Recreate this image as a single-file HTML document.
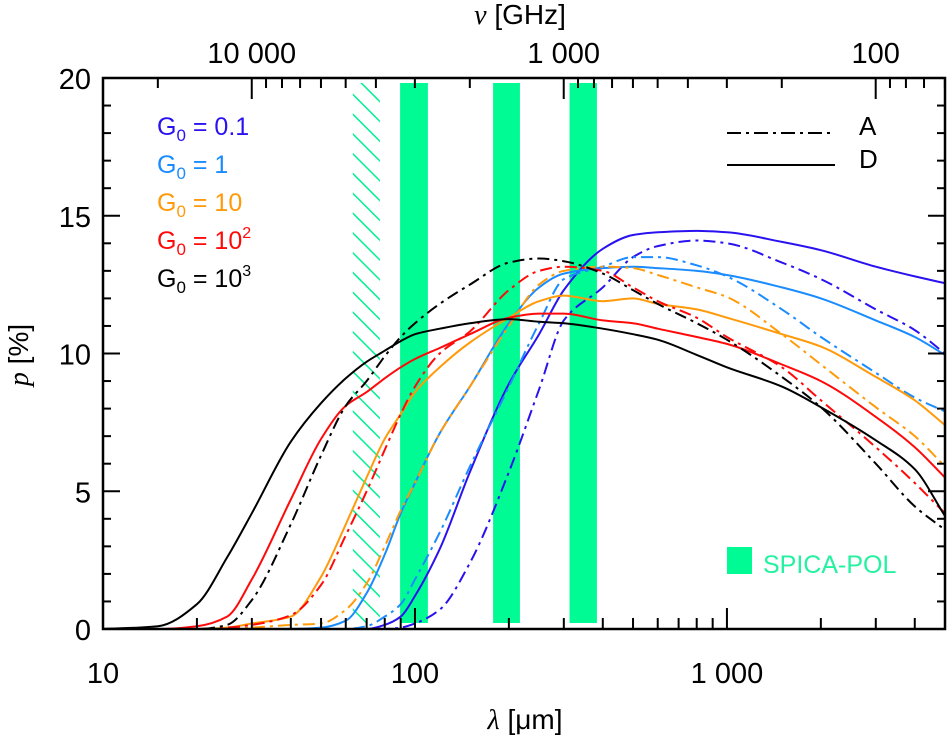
<!DOCTYPE html>
<html><head><meta charset="utf-8">
<style>
html,body{margin:0;padding:0;background:#fff;}
svg{display:block;font-family:"Liberation Sans",sans-serif;}
</style></head>
<body>
<svg id="chart" width="949" height="738" viewBox="0 0 949 738" xmlns="http://www.w3.org/2000/svg">
<defs>
<pattern id="hatch" patternUnits="userSpaceOnUse" width="14" height="14" patternTransform="rotate(-45)">
<line x1="0" y1="0" x2="0" y2="14" stroke="#00f093" stroke-width="3"/>
</pattern>
<clipPath id="plotclip"><rect x="103" y="78" width="842" height="551"/></clipPath>
</defs>
<g id="bands"></g>
<g id="curves" clip-path="url(#plotclip)"></g>
<g id="axes"></g>
<g id="legend">
<text x="157" y="135" font-size="25" fill="#2a12f0">G<tspan font-size="17" dy="6">0</tspan><tspan dy="-6"> = 0.1</tspan></text>
<text x="157" y="173" font-size="25" fill="#1a8cff">G<tspan font-size="17" dy="6">0</tspan><tspan dy="-6"> = 1</tspan></text>
<text x="157" y="211" font-size="25" fill="#ff9a0a">G<tspan font-size="17" dy="6">0</tspan><tspan dy="-6"> = 10</tspan></text>
<text x="157" y="249" font-size="25" fill="#ff0a0a">G<tspan font-size="17" dy="6">0</tspan><tspan dy="-6"> = 10</tspan><tspan font-size="16" dy="-11">2</tspan></text>
<text x="157" y="287" font-size="25" fill="#000">G<tspan font-size="17" dy="6">0</tspan><tspan dy="-6"> = 10</tspan><tspan font-size="16" dy="-11">3</tspan></text>
<line x1="727" y1="133" x2="830" y2="133" stroke="#000" stroke-width="2" stroke-dasharray="14,5,3,5"/>
<text x="859" y="135" font-size="26">A</text>
<line x1="727" y1="165" x2="835" y2="165" stroke="#000" stroke-width="2"/>
<text x="859" y="168" font-size="26">D</text>
<rect x="727" y="547" width="25" height="27" fill="#00fa94"/>
<text x="763" y="573" font-size="25" fill="#24f2a0">SPICA-POL</text>
</g>
<text x="525" y="729" font-size="28" text-anchor="middle"><tspan font-family="Liberation Serif" font-style="italic">λ</tspan> [μm]</text>
<text x="520" y="24" font-size="28" text-anchor="middle"><tspan font-family="Liberation Serif" font-style="italic">ν</tspan> [GHz]</text>
<text transform="translate(28,355) rotate(-90)" font-size="28" text-anchor="middle"><tspan font-family="Liberation Serif" font-style="italic">p</tspan> [%]</text>
</svg>
<script>
const lambdas=[10,15,20,25,30,40,50,60,70,80,90,100,120,150,200,250,300,400,500,600,800,1000,1500,2000,3000,4000,5000];
const blueD=[0,0,0,0,0,0,0,0,0,0.15,0.45,1.2,2.9,5.7,8.9,10.7,12.3,13.8,14.3,14.4,14.45,14.4,14.05,13.75,13.15,12.8,12.55];
const blueA=[0,0,0,0,0,0,0,0,0,0,0.05,0.2,0.7,2.4,5.7,8.7,11.2,12.4,13.5,13.9,14.1,14.0,13.3,12.7,11.6,10.85,10.0];
const lblueD=[0,0,0,0,0,0,0.05,0.3,1.3,2.7,4.2,5.3,7.1,8.8,11.1,12.4,12.9,13.1,13.15,13.1,13.0,12.85,12.4,12.0,11.2,10.6,9.95];
const lblueA=[0,0,0,0,0,0,0,0,0.1,0.45,0.9,1.8,3.5,5.9,8.8,11.1,12.7,13.15,13.5,13.5,13.2,12.8,11.6,10.6,9.3,8.4,7.9];
const orangeD=[0,0,0,0.05,0.2,0.45,1.9,3.8,5.5,6.9,7.8,8.6,9.5,10.4,11.3,11.9,12.1,11.9,12.0,11.8,11.6,11.3,10.7,10.25,9.15,8.3,7.4];
const orangeA=[0,0,0,0,0.05,0.15,0.2,0.7,1.65,3.0,4.3,5.3,7.1,8.8,11.0,12.5,13.0,13.15,13.1,12.85,12.4,12.05,10.7,9.6,8.05,7.0,5.9];
const redD=[0,0,0.1,0.45,1.8,4.7,6.9,8.1,8.6,9.1,9.5,9.8,10.2,10.7,11.3,11.45,11.45,11.2,11.1,10.9,10.6,10.35,9.6,9.0,7.7,6.6,5.5];
const redA=[0,0,0,0.05,0.15,0.5,1.6,3.4,5.0,6.5,7.8,8.8,10.0,10.8,12.3,13.0,13.15,13.0,12.4,11.9,11.3,10.6,9.5,8.3,6.6,5.3,4.2];
const blackD=[0,0.1,0.9,2.6,4.2,6.8,8.2,9.1,9.7,10.1,10.45,10.7,10.9,11.1,11.25,11.15,11.1,10.9,10.7,10.5,9.95,9.5,8.8,8.05,6.85,5.8,4.1];
const blackA=[0,0,0,0.15,1.05,3.8,6.3,8.1,9.0,9.9,10.6,11.1,11.8,12.5,13.3,13.45,13.35,12.9,12.3,11.8,11.1,10.5,9.15,8.05,6.0,4.45,3.6];
const bandLo=[89.6,178,313];
const bandHi=[110,217,383];
const hatchLo=[63.2];
const hatchHi=[77.2];
const xTickLabels=["10","100","1 000"];
const xTickVals=[10,100,1000];
const topTickVals=[10000,1000,100];
const topTickLabels=["10 000","1 000","100"];
const yTickVals=[0,5,10,15,20];

const L=103,R=945,T=78,B=629,XMIN=10,XMAX=5000,YMIN=0,YMAX=20;
const NS="http://www.w3.org/2000/svg";
function xs(l){return L+(R-L)*Math.log10(l/XMIN)/Math.log10(XMAX/XMIN);}
function ys(p){return B-(B-T)*(p-YMIN)/(YMAX-YMIN);}
function mk(tag,attrs,parent){const e=document.createElementNS(NS,tag);for(const k in attrs)e.setAttribute(k,attrs[k]);parent.appendChild(e);return e;}

const bands=document.getElementById('bands');
for(let i=0;i<bandLo.length;i++){
  const r=mk('rect',{x:xs(bandLo[i]),y:83,width:xs(bandHi[i])-xs(bandLo[i]),height:540,fill:'#00fa94'},bands);
  
  
}
for(let i=0;i<hatchLo.length;i++){
  const r=mk('rect',{x:xs(hatchLo[i]),y:83,width:xs(hatchHi[i])-xs(hatchLo[i]),height:540,fill:'url(#hatch)'},bands);
  
  
}

const curves=document.getElementById('curves');
const series=[
 ['blue-d',blueD,'#2a12f0',false],['blue-a',blueA,'#2a12f0',true],
 ['lightblue-d',lblueD,'#1a8cff',false],['lightblue-a',lblueA,'#1a8cff',true],
 ['orange-d',orangeD,'#ff9a0a',false],['orange-a',orangeA,'#ff9a0a',true],
 ['red-d',redD,'#ff0a0a',false],['red-a',redA,'#ff0a0a',true],
 ['black-d',blackD,'#000',false],['black-a',blackA,'#000',true]];
// monotone cubic (Fritsch-Carlson)
function monoPath(pts){
  const n=pts.length,dx=[],m=[],t=[];
  for(let i=0;i<n-1;i++){dx[i]=pts[i+1][0]-pts[i][0];m[i]=(pts[i+1][1]-pts[i][1])/dx[i];}
  t[0]=m[0];t[n-1]=m[n-2];
  for(let i=1;i<n-1;i++){
    if(m[i-1]*m[i]<=0)t[i]=0;
    else{const w1=2*dx[i]+dx[i-1],w2=dx[i]+2*dx[i-1];t[i]=(w1+w2)/(w1/m[i-1]+w2/m[i]);}
  }
  let d='M'+pts[0][0].toFixed(1)+','+pts[0][1].toFixed(1);
  for(let i=0;i<n-1;i++){
    const h=dx[i]/3;
    d+=' C'+(pts[i][0]+h).toFixed(1)+','+(pts[i][1]+t[i]*h).toFixed(1)+' '+(pts[i+1][0]-h).toFixed(1)+','+(pts[i+1][1]-t[i+1]*h).toFixed(1)+' '+pts[i+1][0].toFixed(1)+','+pts[i+1][1].toFixed(1);
  }
  return d;
}
series.forEach(s=>{
  const pts=lambdas.map((l,i)=>[xs(l),ys(s[1][i])]);
  const attrs={d:monoPath(pts),fill:'none',stroke:s[2],'stroke-width':2};
  if(s[3])attrs['stroke-dasharray']='12,5,3,5';
  const p=mk('path',attrs,curves);
  
  
});

const axes=document.getElementById('axes');
const frame=mk('rect',{x:L,y:T,width:R-L,height:B-T,fill:'none',stroke:'#000','stroke-width':2.5},axes);


for(let dec=10;dec<=1000;dec*=10){
  for(let m=1;m<10;m++){
    const v=dec*m; if(v>XMAX)break;
    const x=xs(v),len=(m===1)?21:11;
    mk('line',{x1:x,y1:B,x2:x,y2:B-len,stroke:'#000','stroke-width':2},axes);
  }
}
xTickVals.forEach((v,i)=>{
  const t=mk('text',{x:xs(v),y:683,'font-size':29,'text-anchor':'middle'},axes);
  t.textContent=xTickLabels[i];
  
  
});
for(let dec=10;dec<=10000;dec*=10){
  for(let m=1;m<10;m++){
    const nu=dec*m,l=299792.458/nu;
    if(l<XMIN||l>XMAX)continue;
    const x=xs(l),len=(m===1)?21:10;
    mk('line',{x1:x,y1:T,x2:x,y2:T+len,stroke:'#000','stroke-width':2},axes);
  }
}
topTickVals.forEach((v,i)=>{
  const t=mk('text',{x:xs(299792.458/v),y:63,'font-size':29,'text-anchor':'middle'},axes);
  t.textContent=topTickLabels[i];
  
  
});
for(let v=0;v<=20;v++){
  const y=ys(v),len=(v%5===0)?17:8;
  mk('line',{x1:L,y1:y,x2:L+len,y2:y,stroke:'#000','stroke-width':2},axes);
  mk('line',{x1:R,y1:y,x2:R-len,y2:y,stroke:'#000','stroke-width':2},axes);
}
yTickVals.forEach(v=>{
  const t=mk('text',{x:91,y:ys(v)+11,'font-size':29,'text-anchor':'end'},axes);
  t.textContent=String(v);
  
  
});
</script>
</body></html>
